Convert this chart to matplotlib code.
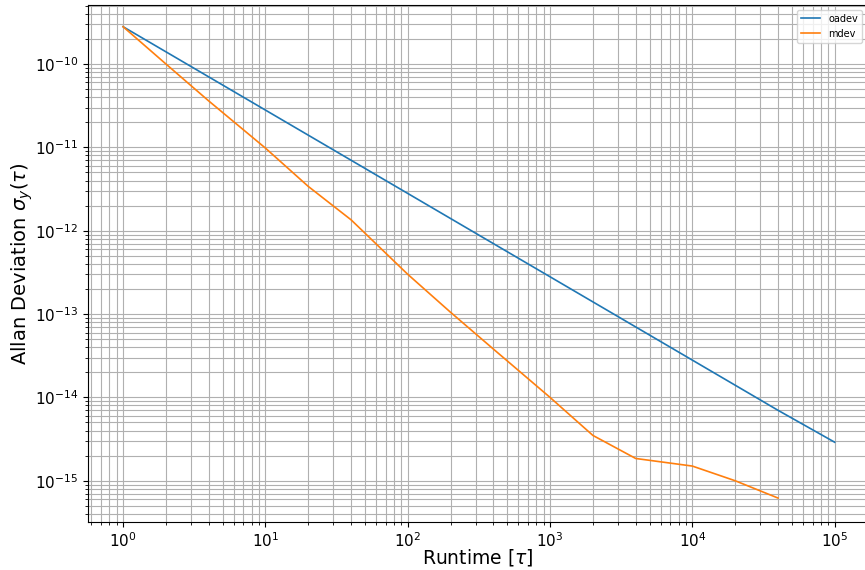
import matplotlib
matplotlib.use("Agg")
import matplotlib.pyplot as plt

tau_oadev = [1, 2, 4, 10, 20, 40, 100, 200, 400, 1000, 2000, 4000, 10000, 20000, 40000, 100000]
oadev = [2.8e-10, 1.4e-10, 7.0e-11, 2.8e-11, 1.4e-11, 7.0e-12, 2.8e-12, 1.4e-12, 7.0e-13,
         2.8e-13, 1.4e-13, 7.0e-14, 2.8e-14, 1.4e-14, 7.0e-15, 2.9e-15]

tau_mdev = [1, 2, 4, 10, 20, 40, 100, 200, 400, 1000, 2000, 4000, 10000, 20000, 40000]
mdev = [2.8e-10, 1.0e-10, 3.6e-11, 9.8e-12, 3.4e-12, 1.35e-12, 3.0e-13, 1.05e-13, 3.8e-14,
        1.0e-14, 3.5e-15, 1.85e-15, 1.5e-15, 1.0e-15, 6.2e-16]

fig = plt.figure(figsize=(8.65, 5.70), dpi=100)
ax = fig.add_axes([88/865, 48/570, 1 - 88/865 + 0.002, (522-5)/570])

ax.loglog(tau_oadev, oadev, color="#1f77b4", lw=1.2, label="oadev")
ax.loglog(tau_mdev, mdev, color="#ff7f0e", lw=1.2, label="mdev")

ax.set_xlim(0.567, 1.68e5)
ax.set_ylim(3.2e-16, 5.1e-10)
ax.grid(True, which="both", color="#b0b0b0", lw=0.8)
ax.set_axisbelow(True)
ax.set_xlabel(r"Runtime [$\tau$]", fontsize=13.5)
ax.set_ylabel(r"Allan Deviation $\sigma_y(\tau)$", fontsize=14)
ax.xaxis.set_label_coords(0.5, -0.0696)
ax.xaxis.label.set_va("center")
ax.yaxis.set_label_coords(-0.0847, 0.5)
ax.yaxis.label.set_va("center")
ax.tick_params(labelsize=11)
ax.legend(loc="upper right", fontsize=7)

fig.savefig("out.png", dpi=100)
